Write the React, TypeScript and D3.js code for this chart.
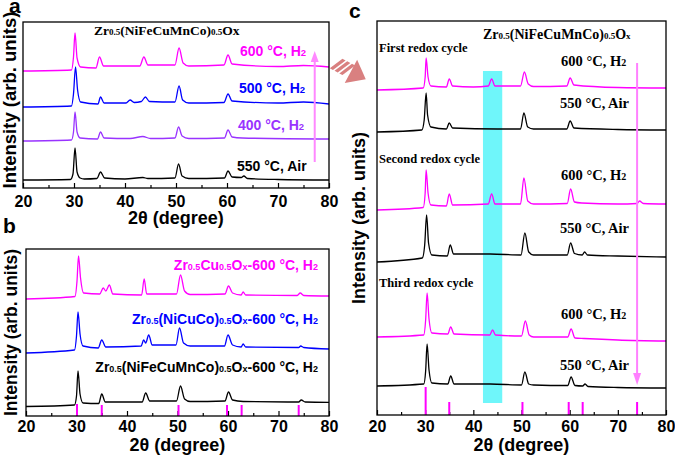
import * as d3 from 'd3';
import { useEffect, useRef } from 'react';

type Pt = [number, number];

// 2θ axis shared by all three panels
const xTicks = [20, 30, 40, 50, 60, 70, 80];
const xMinor = [25, 35, 45, 55, 65, 75];

// standard reference pattern (stick positions, relative heights)
const refPeaks = [30.1, 35.0, 50.2, 59.8, 62.7, 74.0];
const refHeightB = [12, 11, 11, 11, 11, 11];
const refHeightC = [28, 13, 13, 13, 13, 13];

// panel a: Zr0.5(NiFeCuMnCo)0.5Ox after each treatment
const aAir550: Pt[] = [[20, 8], [29.3, 8.5], [29.8, 14], [30.2, 40], [30.6, 16], [31.2, 10], [32, 9], [34.5, 9.5], [35.2, 16], [36, 10], [40, 9], [43.5, 10.5], [44.5, 9.5], [49.8, 10], [50.5, 24], [51.2, 12], [52.5, 9.5], [59.5, 10], [60.2, 17], [61, 11], [62.8, 10.5], [63.3, 12], [64, 9.5], [70, 8.5], [80, 8]];
const aH2400: Pt[] = [[20, 47], [29.5, 48], [29.9, 56], [30.2, 76], [30.6, 56], [31.2, 50], [34.6, 49], [35.2, 56], [35.9, 50], [41, 49.5], [43.5, 51.5], [45, 49.5], [49.8, 50], [50.5, 61], [51.2, 52], [52.5, 49.5], [59.5, 50], [60.2, 58], [61, 51], [63, 50], [80, 49]];
const aH2500: Pt[] = [[20, 81], [29.5, 82], [29.9, 94], [30.3, 121], [30.7, 98], [31.3, 86], [34.7, 84], [35.2, 91], [35.9, 85], [40.2, 85], [41, 88], [41.8, 85.5], [43.2, 86.5], [44, 91], [44.8, 86.5], [49.8, 86], [50.6, 102], [51.3, 88], [52.5, 85], [59.4, 85.5], [60.2, 94], [61, 87], [70, 85], [75, 86], [80, 84]];
const aH2600: Pt[] = [[20, 117], [29.5, 118], [29.9, 131], [30.2, 155], [30.6, 130], [31.3, 121], [34.3, 120], [35, 131], [35.8, 122], [42.9, 122], [43.7, 131], [44.5, 123], [49.8, 123], [50.6, 140], [51.4, 125], [52.5, 122], [59.4, 123], [60.2, 133], [61, 124], [70, 121.5], [75, 122.5], [80, 121]];

// panel b: different compositions reduced at 600 °C
const bHEO: Pt[] = [[20, 9.5], [29.6, 11], [30, 20], [30.3, 45], [30.7, 22], [31.3, 13], [34.4, 12.5], [35, 22], [35.7, 14], [43, 14], [43.7, 23], [44.5, 15], [49.8, 15], [50.6, 30], [51.4, 17], [52.5, 14.5], [59.4, 15], [60.1, 24], [60.9, 16], [63, 14.5], [74, 14], [74.5, 16], [75.3, 14], [80, 13.7]];
const bNiCuCo: Pt[] = [[20, 63], [29.6, 66], [30, 80], [30.3, 104], [30.7, 82], [31.3, 70], [34.3, 68], [35, 76], [35.8, 69], [42.8, 70], [43.3, 76], [43.7, 73], [44.3, 81], [45, 71], [49.7, 71], [50.4, 88], [51.2, 73], [52.5, 70], [59.3, 70], [60, 81], [60.9, 71], [62.6, 69], [63, 72], [63.5, 69], [74, 68.5], [74.4, 70], [75, 68.5], [80, 67]];
const bCu: Pt[] = [[20, 117], [29.7, 119.5], [30.1, 135], [30.4, 160], [30.8, 138], [31.4, 123], [34.6, 122], [35.3, 128], [35.8, 125], [36.5, 131], [37.2, 122], [42.9, 121], [43.4, 137], [43.9, 122], [49.8, 122], [50.6, 141], [51.4, 125], [52.5, 121.5], [59.4, 122], [60.1, 130], [60.9, 123], [62.6, 121], [63, 124], [63.5, 121], [73.7, 120.5], [74.3, 123], [75, 120.5], [80, 120]];

// panel c: three redox cycles
const cH2First: Pt[] = [[20, 325], [29.6, 327], [30, 338], [30.2, 357], [30.6, 338], [31.2, 329], [34.4, 328], [35, 336], [35.7, 329], [40, 328], [43.1, 329], [43.8, 336], [44.5, 329], [49.8, 329], [50.6, 343], [51.4, 331], [52.5, 328.5], [59.4, 329], [60.1, 337], [60.9, 330], [70, 327.5], [80, 327]];
const cAirFirst: Pt[] = [[20, 283], [29.3, 285], [29.8, 295], [30.2, 322], [30.5, 300], [31.2, 288], [34.4, 286], [35, 292], [35.7, 287], [45, 286], [49.8, 286], [50.5, 302], [51.3, 288], [52.5, 286], [59.4, 286], [60.1, 294], [60.9, 287], [70, 285.5], [80, 285]];
const cH2Second: Pt[] = [[20, 205], [29.6, 207.5], [30, 222], [30.2, 245], [30.6, 222], [31.2, 210], [34.4, 209], [35, 221], [35.7, 210], [43.1, 211], [43.8, 221], [44.5, 211], [49.8, 211], [50.5, 237], [51.3, 214], [52.5, 211], [59.5, 211.5], [60.2, 226], [61, 213], [62.5, 212], [70, 211], [74, 211.5], [74.5, 214], [75.3, 211.5], [80, 211]];
const cAirSecond: Pt[] = [[20, 153], [29.4, 157], [29.9, 170], [30.3, 200], [30.7, 172], [31.4, 160], [34.6, 159], [35.2, 170], [35.9, 161], [43.5, 161], [49.9, 160], [50.7, 182], [51.5, 163], [52.5, 160], [59.5, 160], [60.2, 172], [61, 161.5], [62.6, 160], [63.1, 163], [63.7, 160], [70, 159], [80, 158]];
const cH2Third: Pt[] = [[20, 78], [29.7, 80], [30.1, 95], [30.4, 122], [30.8, 96], [31.4, 82], [34.7, 81], [35.3, 88], [36, 81], [43.4, 80], [44, 85], [44.6, 80], [50, 79], [50.8, 94], [51.6, 80], [52.5, 78], [59.6, 78], [60.3, 86], [61.1, 77], [63, 76.5], [70, 75], [80, 74]];
const cAirThird: Pt[] = [[20, 29], [29.7, 31], [30.1, 44], [30.4, 71], [30.8, 45], [31.4, 32], [34.7, 31], [35.3, 39], [36, 31], [43.5, 31], [50, 30], [50.7, 43], [51.5, 31], [52.5, 30], [59.6, 29.5], [60.3, 38], [61.1, 29.5], [62.7, 29], [63.2, 31], [63.8, 28.5], [70, 27.5], [80, 27]];

const SANS = '"Liberation Sans", Arial, sans-serif';
const SERIF = '"Liberation Serif", "Times New Roman", serif';
const MAG = '#ff00ff';
const BLUE = '#0000ff';
const VIOLET = '#9933ff';

type Box = { left: number; right: number; top: number; bottom: number };
type Sel = d3.Selection<SVGGElement, unknown, null, undefined>;

// text with small (subscript-like) runs, parts: [text, small?]
function rich(g: Sel, x: number, y: number, parts: [string, boolean][], o: { size: number; sub: number; fill: string; font: string; anchor?: string }) {
  const t = g.append('text').attr('x', x).attr('y', y).attr('font-family', o.font).attr('font-weight', 'bold')
    .attr('font-size', o.size).attr('fill', o.fill).attr('text-anchor', o.anchor ?? 'start').style('white-space', 'pre');
  parts.forEach(([s, small]) => t.append('tspan').attr('font-size', small ? o.sub : o.size).text(s));
}

function frame(g: Sel, box: Box, yMax: number, pad: number, yLabel: { size: number; dx: number; cy?: number }, xLabelY: number) {
  const x = d3.scaleLinear().domain([20, 80]).range([box.left, box.right]);
  const y = d3.scaleLinear().domain([0, yMax]).range([box.bottom, box.top]);

  const ax = g.append('g').attr('transform', `translate(0,${box.bottom})`)
    .call(d3.axisBottom(x).tickValues(xTicks).tickSize(-5).tickPadding(pad).tickFormat(d3.format('d')));
  ax.select('.domain').remove();
  ax.selectAll('line').attr('stroke-width', 1.2);
  ax.selectAll('text').attr('font-family', SANS).attr('font-weight', 'bold').attr('font-size', 16).attr('fill', '#000');
  const mn = g.append('g').attr('transform', `translate(0,${box.bottom})`)
    .call(d3.axisBottom(x).tickValues(xMinor).tickSize(-3).tickFormat(() => ''));
  mn.select('.domain').remove();
  mn.selectAll('line').attr('stroke-width', 1.2);

  g.append('text').attr('x', (box.left + box.right) / 2).attr('y', xLabelY).attr('text-anchor', 'middle')
    .attr('font-family', SANS).attr('font-weight', 'bold').attr('font-size', 18).text('2θ (degree)');
  const cy = yLabel.cy ?? (box.top + box.bottom) / 2;
  g.append('text').attr('transform', `translate(${box.left - yLabel.dx},${cy}) rotate(-90)`)
    .attr('text-anchor', 'middle').attr('font-family', SANS).attr('font-weight', 'bold').attr('font-size', yLabel.size)
    .text('Intensity (arb. units)');
  return { x, y };
}

function trace(g: Sel, x: d3.ScaleLinear<number, number>, y: d3.ScaleLinear<number, number>, data: Pt[], color: string) {
  const line = d3.line<Pt>().x((d) => x(d[0])).y((d) => y(d[1])).curve(d3.curveMonotoneX);
  g.append('path').attr('d', line(data)).attr('fill', 'none').attr('stroke', color).attr('stroke-width', 1.3);
}

function border(g: Sel, box: Box) {
  g.append('rect').attr('x', box.left).attr('y', box.top).attr('width', box.right - box.left).attr('height', box.bottom - box.top)
    .attr('fill', 'none').attr('stroke', '#000').attr('stroke-width', 1.3);
}

export default function App() {
  const ref = useRef<SVGSVGElement | null>(null);

  useEffect(() => {
    const svg = d3.select(ref.current);
    svg.selectAll('*').remove();
    const root = svg.append('g') as unknown as Sel;

    const letter = (t: string, x: number, y: number) =>
      root.append('text').attr('x', x).attr('y', y).attr('font-family', SANS).attr('font-weight', 'bold').attr('font-size', 21).text(t);

    // ---- panel a
    const boxA = { left: 23, right: 329, top: 22, bottom: 188 };
    const gA = root.append('g') as unknown as Sel;
    const A = frame(gA, boxA, 166, 8, { size: 18.5, dx: 7, cy: 100 }, 224);
    trace(gA, A.x, A.y, aAir550, '#000');
    trace(gA, A.x, A.y, aH2400, VIOLET);
    trace(gA, A.x, A.y, aH2500, BLUE);
    trace(gA, A.x, A.y, aH2600, MAG);
    // heating arrow
    gA.append('line').attr('x1', A.x(77.2)).attr('x2', A.x(77.2)).attr('y1', A.y(26)).attr('y2', A.y(128))
      .attr('stroke', '#ff88ff').attr('stroke-width', 2);
    gA.append('path').attr('d', `M${A.x(77.2) - 4},${A.y(126)} L${A.x(77.2)},${A.y(137)} L${A.x(77.2) + 4},${A.y(126)} Z`).attr('fill', '#ff88ff');
    border(gA, boxA);
    const sansA = { size: 14, sub: 9.5, font: SANS };
    rich(gA, 94, 35, [['Zr', false], ['0.5', true], ['(NiFeCuMnCo)', false], ['0.5', true], ['Ox', false]], { size: 13.5, sub: 9, fill: '#000', font: SERIF });
    rich(gA, 240, 56, [['600 °C, H', false], ['2', true]], { ...sansA, fill: MAG });
    rich(gA, 239, 93, [['500 °C, H', false], ['2', true]], { ...sansA, fill: BLUE });
    rich(gA, 238, 130, [['400 °C, H', false], ['2', true]], { ...sansA, fill: VIOLET });
    rich(gA, 237, 171, [['550 °C, Air', false]], { ...sansA, fill: '#000' });
    letter('a', 9, 13);

    // ---- panel b
    const boxB = { left: 26, right: 329, top: 249, bottom: 416 };
    const gB = root.append('g') as unknown as Sel;
    const B = frame(gB, boxB, 167, 5, { size: 17.5, dx: 9 }, 451);
    trace(gB, B.x, B.y, bHEO, '#000');
    trace(gB, B.x, B.y, bNiCuCo, BLUE);
    trace(gB, B.x, B.y, bCu, MAG);
    gB.selectAll('line.ref').data(refPeaks).enter().append('line').attr('class', 'ref')
      .attr('x1', (d) => B.x(d)).attr('x2', (d) => B.x(d)).attr('y1', B.y(0)).attr('y2', (_d, i) => B.y(refHeightB[i]))
      .attr('stroke', MAG).attr('stroke-width', 2);
    border(gB, boxB);
    const sansB = { size: 14, sub: 9, font: SANS, anchor: 'end' };
    rich(gB, 318, 270, [['Zr', false], ['0.5', true], ['Cu', false], ['0.5', true], ['O', false], ['x', true], ['-600 °C, H', false], ['2', true]], { ...sansB, fill: MAG });
    rich(gB, 318, 324, [['Zr', false], ['0.5', true], ['(NiCuCo)', false], ['0.5', true], ['O', false], ['x', true], ['-600 °C, H', false], ['2', true]], { ...sansB, fill: BLUE });
    rich(gB, 318, 372, [['Zr', false], ['0.5', true], ['(NiFeCuMnCo)', false], ['0.5', true], ['O', false], ['x', true], ['-600 °C, H', false], ['2', true]], { ...sansB, fill: '#000' });
    letter('b', 3, 233);

    // ---- panel c
    const boxC = { left: 377, right: 666, top: 21, bottom: 415 };
    const gC = root.append('g') as unknown as Sel;
    const C = frame(gC, boxC, 394, 6, { size: 18, dx: 12 }, 451);
    gC.append('rect').attr('x', C.x(42)).attr('width', C.x(46) - C.x(42)).attr('y', C.y(344)).attr('height', C.y(12) - C.y(344))
      .attr('fill', '#6ff6fa');
    [cAirThird, cAirSecond, cAirFirst].forEach((d) => trace(gC, C.x, C.y, d, '#000'));
    [cH2Third, cH2Second, cH2First].forEach((d) => trace(gC, C.x, C.y, d, MAG));
    gC.selectAll('line.ref').data(refPeaks).enter().append('line').attr('class', 'ref')
      .attr('x1', (d) => C.x(d)).attr('x2', (d) => C.x(d)).attr('y1', C.y(0)).attr('y2', (_d, i) => C.y(refHeightC[i]))
      .attr('stroke', MAG).attr('stroke-width', 2);
    // cycling arrow
    gC.append('line').attr('x1', C.x(74)).attr('x2', C.x(74)).attr('y1', C.y(352)).attr('y2', C.y(40))
      .attr('stroke', '#ff80ff').attr('stroke-width', 2);
    gC.append('path').attr('d', `M${C.x(74) - 4},${C.y(42)} L${C.x(74)},${C.y(30)} L${C.x(74) + 4},${C.y(42)} Z`).attr('fill', '#ff80ff');
    border(gC, boxC);
    rich(gC, 483, 39, [['Zr', false], ['0.5', true], ['(NiFeCuMnCo)', false], ['0.5', true], ['O', false], ['x', true]], { size: 14, sub: 9, fill: '#000', font: SERIF });
    const cyc = { size: 12.5, sub: 9, fill: '#000', font: SERIF };
    rich(gC, 379, 52, [['First redox cycle', false]], cyc);
    rich(gC, 379, 163, [['Second redox cycle', false]], cyc);
    rich(gC, 379, 287, [['Third redox cycle', false]], cyc);
    const tmp = { size: 14.5, sub: 10, fill: '#000', font: SERIF };
    [66, 180, 319].forEach((yy) => rich(gC, 561, yy, [['600 °C, H', false], ['2', true]], tmp));
    [108, 233, 370].forEach((yy) => rich(gC, 560, yy, [['550 °C, Air', false]], tmp));
    letter('c', 349, 18);

    // striped arrow a -> c
    const arr = root.append('g').attr('transform', 'translate(352,72) rotate(28) scale(1.2)').attr('fill', '#d98080');
    [-15, -10.5, -6].forEach((s) => arr.append('path').attr('d', `M${s},-6 L${s + 3},-6 L${s + 3},6 L${s},6 Z`).attr('transform', 'skewX(-25)'));
    arr.append('path').attr('d', 'M-1,-11 L13,0 L-1,11 Z');
  }, []);

  return (
    <svg ref={ref} width={675} height={462} style={{ position: 'absolute', left: 0, top: 0, background: '#fff' }} />
  );
}
